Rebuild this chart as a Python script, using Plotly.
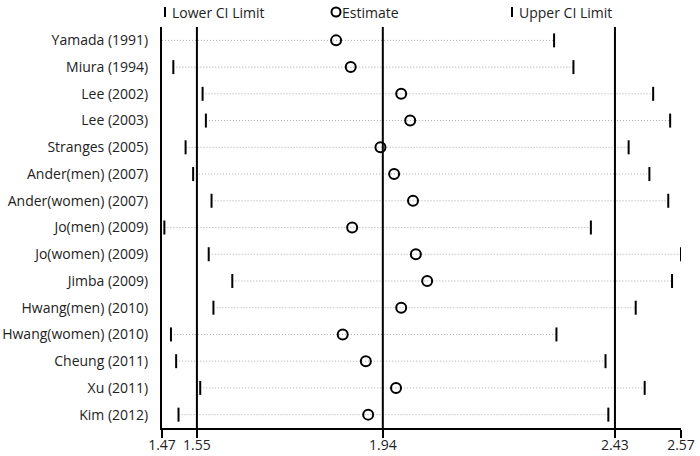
import plotly.graph_objects as go

studies = ["Yamada (1991)", "Miura (1994)", "Lee (2002)", "Lee (2003)", "Stranges (2005)",
           "Ander(men) (2007)", "Ander(women) (2007)", "Jo(men) (2009)", "Jo(women) (2009)",
           "Jimba (2009)", "Hwang(men) (2010)", "Hwang(women) (2010)", "Cheung (2011)",
           "Xu (2011)", "Kim (2012)"]
lower = [1.45, 1.494, 1.556, 1.563, 1.520, 1.536, 1.575, 1.475, 1.569, 1.619,
         1.579, 1.489, 1.500, 1.551, 1.505]
estimate = [1.839, 1.870, 1.977, 1.996, 1.933, 1.962, 2.002, 1.873, 2.008, 2.032,
            1.977, 1.853, 1.902, 1.966, 1.907]
upper = [2.301, 2.342, 2.511, 2.547, 2.459, 2.503, 2.543, 2.379, 2.570, 2.551,
         2.474, 2.306, 2.410, 2.493, 2.416]

# summary reference lines (lower, estimate, upper) and axis ticks
ref_values = [1.544, 1.938, 2.43]
x_min, x_max = 1.47, 2.57
tick_vals = [1.47, 1.544, 1.938, 2.43, 2.57]
tick_text = ["1.47", "1.55", "1.94", "2.43", "2.57"]

FONT = "Open Sans"
FS = 14
rows = list(range(len(studies)))

fig = go.Figure()

# dotted connectors
dx, dy = [], []
for i in rows:
    dx += [max(lower[i], x_min), upper[i], None]
    dy += [i, i, None]
fig.add_trace(go.Scatter(x=dx, y=dy, mode="lines",
                         line=dict(color="#a8a8a8", width=1, dash="1px,2px"),
                         hoverinfo="skip", showlegend=False))

fig.add_trace(go.Scatter(x=lower, y=rows, mode="markers", name="Lower CI Limit",
                         marker=dict(symbol="line-ns", size=10, color="black",
                                     line=dict(width=2, color="black")),
                         showlegend=False))
fig.add_trace(go.Scatter(x=upper, y=rows, mode="markers", name="Upper CI Limit",
                         marker=dict(symbol="line-ns", size=10, color="black",
                                     line=dict(width=2, color="black")),
                         showlegend=False))
fig.add_trace(go.Scatter(x=estimate, y=rows, mode="markers", name="Estimate",
                         marker=dict(symbol="circle-open", size=10, color="black",
                                     line=dict(width=2, color="black")),
                         showlegend=False))

shapes = []
for v in ref_values:
    shapes.append(dict(type="line", xref="x", yref="paper", x0=v, x1=v, y0=0, y1=1,
                       line=dict(color="black", width=2)))

# legend (manual, in pixel-ish paper coords)
W, H = 700, 456
ml, mr, mt, mb = 162, 19, 27, 28
pw, ph = W - ml - mr, H - mt - mb

def px(xp):
    return (xp - ml) / pw

def py(yp):
    return (H - mb - yp) / ph

legend_items = [(165, "bar", "Lower CI Limit"), (336, "circle", "Estimate"), (512, "bar", "Upper CI Limit")]
annotations = []
for xp, kind, label in legend_items:
    if kind == "bar":
        shapes.append(dict(type="line", xref="paper", yref="paper",
                           x0=px(xp), x1=px(xp), y0=py(7), y1=py(17),
                           line=dict(color="black", width=2)))
        tx = xp + 5
    else:
        shapes.append(dict(type="circle", xref="paper", yref="paper",
                           x0=px(xp - 4.5), x1=px(xp + 4.5), y0=py(7.5), y1=py(16.5),
                           line=dict(color="black", width=2)))
        tx = xp + 4
    annotations.append(dict(text=label, xref="paper", yref="paper", x=px(tx), y=py(12),
                            xanchor="left", yanchor="middle", showarrow=False,
                            font=dict(family=FONT, size=FS, color="#222")))

fig.update_layout(
    width=W, height=H,
    margin=dict(l=ml, r=mr, t=mt, b=mb, autoexpand=False),
    plot_bgcolor="white", paper_bgcolor="white",
    font=dict(family=FONT, size=FS, color="#222"),
    shapes=shapes, annotations=annotations,
    xaxis=dict(range=[x_min, x_max], tickvals=tick_vals, ticktext=tick_text,
               automargin=False,
               showgrid=False, zeroline=False, showline=True, linecolor="black",
               linewidth=2, ticks="outside", ticklen=8, tickwidth=2, tickcolor="black",
               ticklabelstandoff=-5,
               tickfont=dict(family=FONT, size=FS, color="#222")),
    yaxis=dict(range=[len(studies) - 0.5, -0.5], tickvals=rows, ticktext=studies,
               automargin=False,
               showgrid=False, zeroline=False, showline=True, linecolor="black",
               linewidth=2, ticks="", ticklabelstandoff=9,
               tickfont=dict(family=FONT, size=FS, color="#222")),
)

fig.write_html("out.html", config={"displayModeBar": False},
               post_script="document.body.style.margin='0';document.body.style.overflow='hidden';")
